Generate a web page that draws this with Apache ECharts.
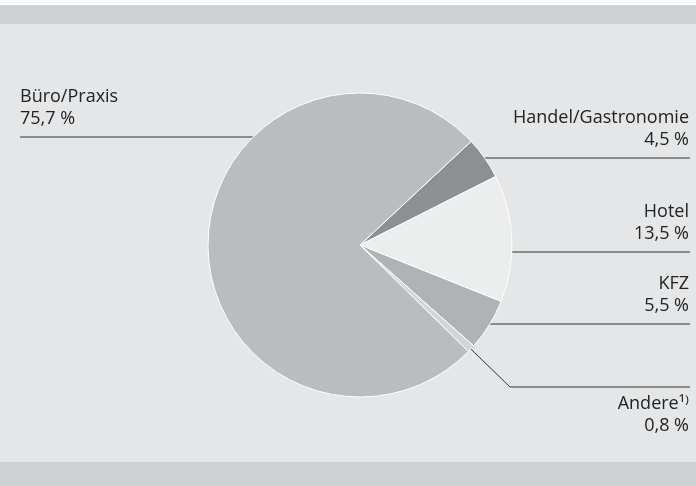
<!DOCTYPE html>
<html>
<head>
<meta charset="utf-8">
<script src="https://cdn.jsdelivr.net/npm/echarts@6/dist/echarts.min.js"></script>
<style>
  html, body { margin: 0; padding: 0; background: #e5e6e7; }
  #chart { width: 696px; height: 486px; }
</style>
</head>
<body>
<div id="chart"></div>
<script>
const categories = ['Handel/Gastronomie', 'Hotel', 'KFZ', 'Andere¹⁾', 'Büro/Praxis']
const values = [4.5, 13.5, 5.5, 0.8, 75.7]
const sliceColors = ['#8c9092', '#eceded', '#afb3b5', '#d2d5d5', '#b9bdbf']

// pie geometry and label line heights (layout only)
const CX = 360
const CY = 245
const R = 152
const lineY = [158, 252, 324, 349, 137]

const fmt = (v) => v.toFixed(1).replace('.', ',') + ' %'

const chart = echarts.init(document.getElementById('chart'))

chart.setOption({
  backgroundColor: '#e5e6e7',
  animation: false,
  graphic: [
    { type: 'rect', shape: { x: 0, y: 0, width: 696, height: 5 }, style: { fill: '#ffffff' }, silent: true },
    { type: 'rect', shape: { x: 0, y: 5, width: 696, height: 19 }, style: { fill: '#d0d1d2' }, silent: true },
    { type: 'rect', shape: { x: 0, y: 462, width: 696, height: 24 }, style: { fill: '#d0d1d2' }, silent: true }
  ],
  series: [
    {
      type: 'pie',
      center: [CX, CY],
      radius: R,
      startAngle: 43,
      clockwise: true,
      avoidLabelOverlap: false,
      itemStyle: { borderColor: '#ffffff', borderWidth: 1 },
      emphasis: { disabled: true },
      label: {
        show: true,
        position: 'outside',
        fontFamily: 'Open Sans',
        fontSize: 18,
        lineHeight: 22,
        color: '#222222',
        formatter: (p) => p.name + '\n' + fmt(p.value)
      },
      labelLine: {
        show: true,
        lineStyle: { color: '#333333', width: 1 }
      },
      labelLayout: (params) => {
        const i = params.dataIndex
        const y = lineY[i]
        const dx = Math.sqrt(R * R - (y - CY) * (y - CY))
        if (i === 4) {
          return {
            x: 20, y: y - 7, align: 'left', verticalAlign: 'bottom',
            labelLinePoints: [[CX - dx, y], [20, y], [20, y]]
          }
        }
        if (i === 3) {
          return {
            x: 689, y: 393, align: 'right', verticalAlign: 'top',
            labelLinePoints: [[CX + dx, y], [510, 387], [690, 387]]
          }
        }
        return {
          x: 689, y: y - 7, align: 'right', verticalAlign: 'bottom',
          labelLinePoints: [[CX + dx, y], [690, y], [690, y]]
        }
      },
      data: categories.map((name, i) => ({
        name: name,
        value: values[i],
        itemStyle: { color: sliceColors[i] }
      }))
    }
  ]
})
</script>
</body>
</html>
